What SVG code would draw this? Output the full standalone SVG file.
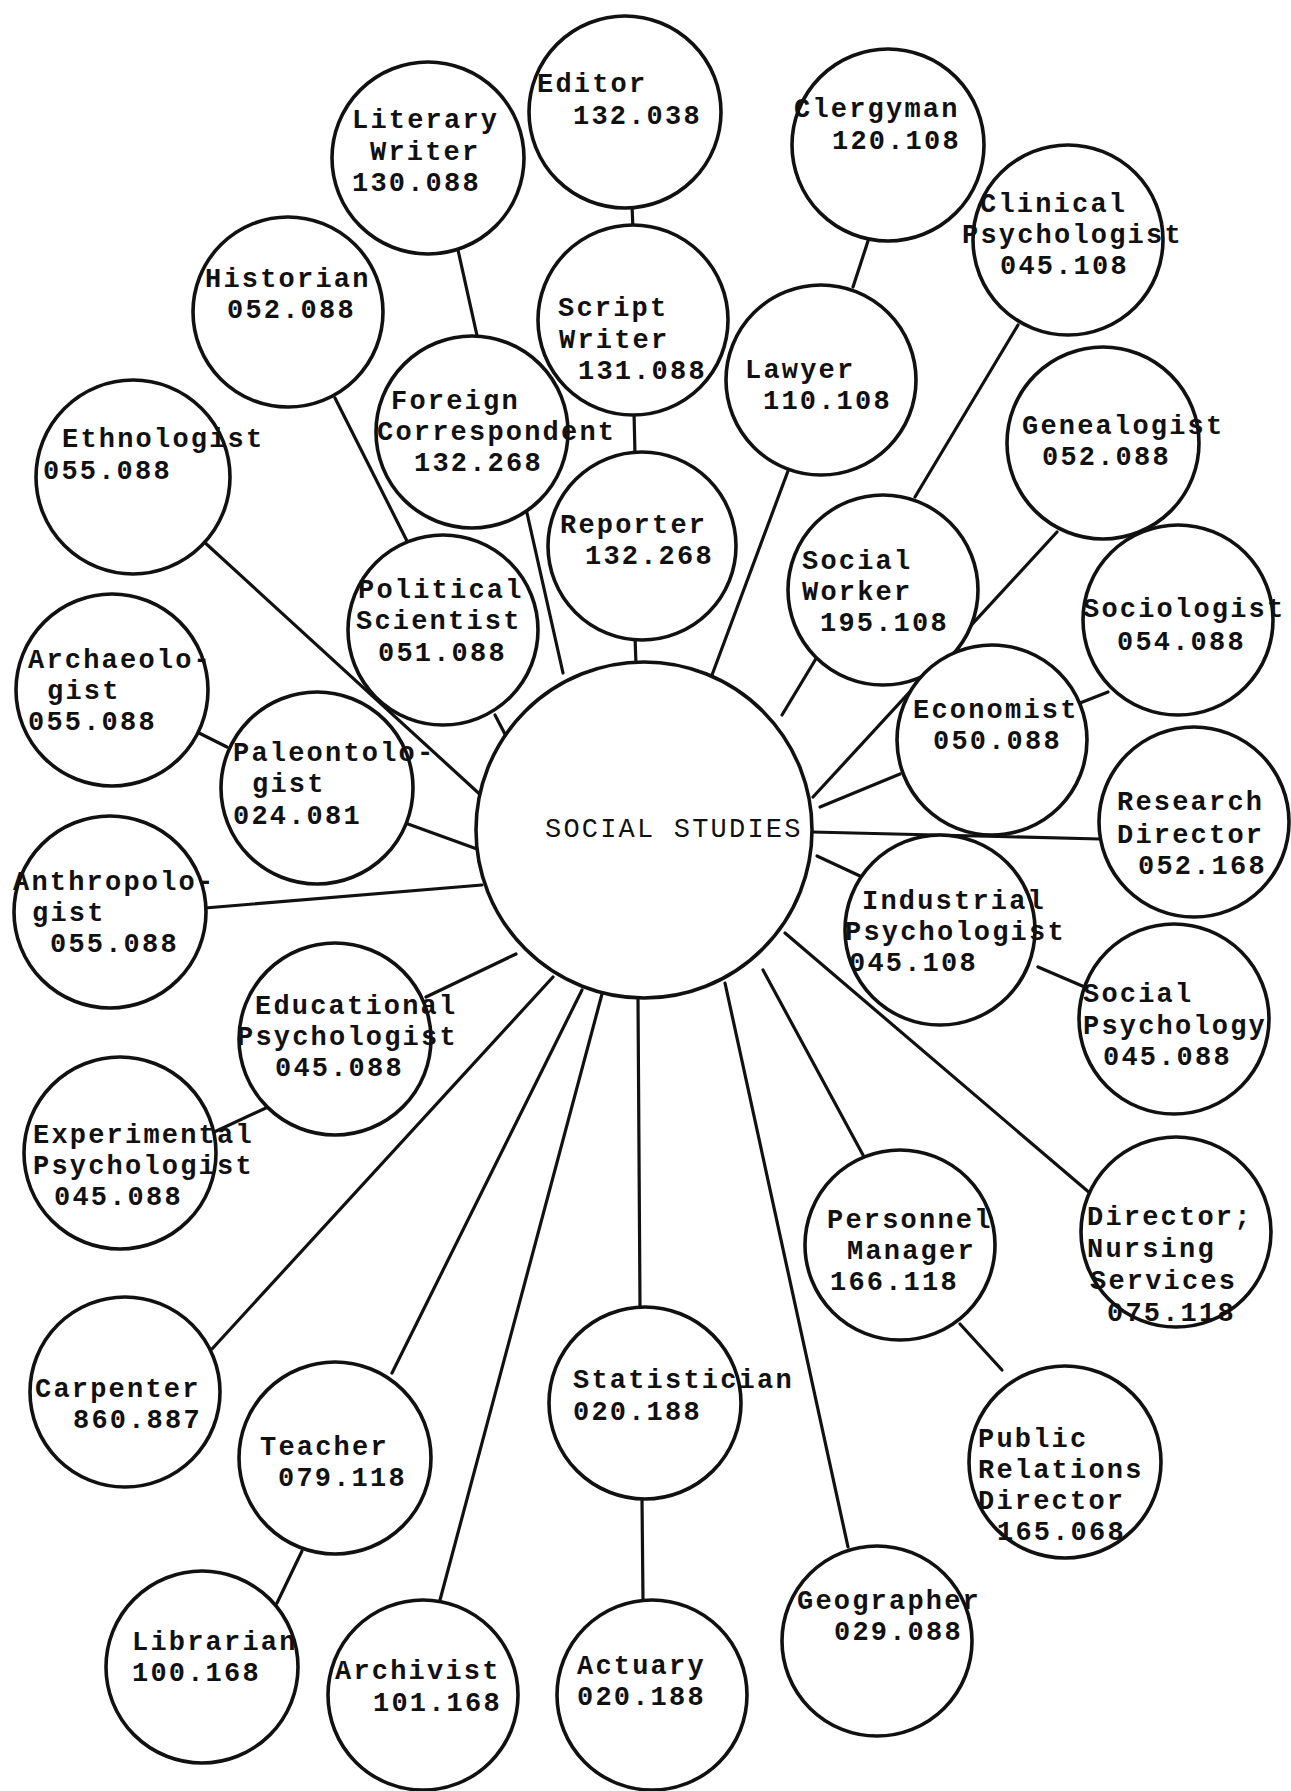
<svg xmlns="http://www.w3.org/2000/svg" width="1291" height="1791" viewBox="0 0 1291 1791">
<style>
.bg{fill:#fff}
.c{fill:#fff;stroke:#111;stroke-width:3.6}
.l{stroke:#111;stroke-width:3.2;fill:none;stroke-linecap:round}
.t{font-family:"Liberation Mono","Courier New",monospace;font-size:27px;letter-spacing:2.2px;font-weight:bold;fill:#111}
.s{font-family:"Liberation Mono","Courier New",monospace;font-size:27px;letter-spacing:2.2px;fill:#111}
</style>
<rect class="bg" x="0" y="0" width="1291" height="1791"/>
<g id="connectors">
<line class="l" x1="632" y1="205" x2="633" y2="230"/>
<line class="l" x1="634" y1="412" x2="635" y2="455"/>
<line class="l" x1="635" y1="636" x2="636" y2="665"/>
<line class="l" x1="458" y1="250" x2="478" y2="340"/>
<line class="l" x1="335" y1="398" x2="407" y2="541"/>
<line class="l" x1="527" y1="513" x2="563" y2="673"/>
<line class="l" x1="495" y1="715" x2="507" y2="738"/>
<line class="l" x1="202" y1="540" x2="485" y2="799"/>
<line class="l" x1="197" y1="732" x2="227" y2="747"/>
<line class="l" x1="408" y1="824" x2="477" y2="849"/>
<line class="l" x1="205" y1="908" x2="482" y2="885"/>
<line class="l" x1="426" y1="997" x2="516" y2="954"/>
<line class="l" x1="268" y1="1107" x2="212" y2="1133"/>
<line class="l" x1="212" y1="1349" x2="553" y2="977"/>
<line class="l" x1="392" y1="1373" x2="582" y2="990"/>
<line class="l" x1="302" y1="1551" x2="277" y2="1603"/>
<line class="l" x1="440" y1="1600" x2="602" y2="994"/>
<line class="l" x1="638" y1="998" x2="640" y2="1307"/>
<line class="l" x1="642" y1="1499" x2="643" y2="1600"/>
<line class="l" x1="848" y1="1547" x2="725" y2="983"/>
<line class="l" x1="863" y1="1155" x2="763" y2="970"/>
<line class="l" x1="960" y1="1324" x2="1002" y2="1370"/>
<line class="l" x1="1091" y1="1194" x2="785" y2="933"/>
<line class="l" x1="860" y1="876" x2="817" y2="856"/>
<line class="l" x1="1038" y1="967" x2="1087" y2="988"/>
<line class="l" x1="1100" y1="839" x2="812" y2="832"/>
<line class="l" x1="900" y1="774" x2="820" y2="807"/>
<line class="l" x1="1108" y1="692" x2="1080" y2="703"/>
<line class="l" x1="1057" y1="532" x2="813" y2="797"/>
<line class="l" x1="817" y1="657" x2="782" y2="715"/>
<line class="l" x1="1018" y1="325" x2="915" y2="497"/>
<line class="l" x1="788" y1="471" x2="712" y2="675"/>
<line class="l" x1="868" y1="241" x2="853" y2="287"/>
</g>
<g id="social-studies"><circle class="c" cx="644" cy="830" r="168"/><text class="s" x="545" y="837">SOCIAL STUDIES</text></g>
<g id="editor"><circle class="c" cx="625" cy="112" r="96"/><text class="t" x="537" y="92">Editor</text><text class="t" x="573" y="124">132.038</text></g>
<g id="literary-writer"><circle class="c" cx="428" cy="158" r="96"/><text class="t" x="352" y="128">Literary</text><text class="t" x="370" y="160">Writer</text><text class="t" x="352" y="191">130.088</text></g>
<g id="historian"><circle class="c" cx="288" cy="312" r="95"/><text class="t" x="205" y="287">Historian</text><text class="t" x="227" y="318">052.088</text></g>
<g id="ethnologist"><circle class="c" cx="133" cy="477" r="97"/><text class="t" x="62" y="447">Ethnologist</text><text class="t" x="43" y="479">055.088</text></g>
<g id="script-writer"><circle class="c" cx="633" cy="320" r="95"/><text class="t" x="558" y="316">Script</text><text class="t" x="559" y="348">Writer</text><text class="t" x="578" y="379">131.088</text></g>
<g id="foreign-correspondent"><circle class="c" cx="472" cy="432" r="96"/><text class="t" x="391" y="409">Foreign</text><text class="t" x="377" y="440">Correspondent</text><text class="t" x="414" y="471">132.268</text></g>
<g id="reporter"><circle class="c" cx="642" cy="546" r="94"/><text class="t" x="560" y="533">Reporter</text><text class="t" x="585" y="564">132.268</text></g>
<g id="clergyman"><circle class="c" cx="888" cy="145" r="96"/><text class="t" x="794" y="117">Clergyman</text><text class="t" x="832" y="149">120.108</text></g>
<g id="lawyer"><circle class="c" cx="821" cy="380" r="95"/><text class="t" x="745" y="378">Lawyer</text><text class="t" x="763" y="409">110.108</text></g>
<g id="clinical-psychologist"><circle class="c" cx="1068" cy="240" r="95"/><text class="t" x="980" y="212">Clinical</text><text class="t" x="962" y="243">Psychologist</text><text class="t" x="1000" y="274">045.108</text></g>
<g id="genealogist"><circle class="c" cx="1103" cy="443" r="96"/><text class="t" x="1022" y="434">Genealogist</text><text class="t" x="1042" y="465">052.088</text></g>
<g id="social-worker"><circle class="c" cx="883" cy="590" r="95"/><text class="t" x="802" y="569">Social</text><text class="t" x="802" y="600">Worker</text><text class="t" x="820" y="631">195.108</text></g>
<g id="political-scientist"><circle class="c" cx="443" cy="630" r="95"/><text class="t" x="358" y="598">Political</text><text class="t" x="356" y="629">Scientist</text><text class="t" x="378" y="661">051.088</text></g>
<g id="archaeologist"><circle class="c" cx="112" cy="690" r="96"/><text class="t" x="28" y="668">Archaeolo-</text><text class="t" x="47" y="699">gist</text><text class="t" x="28" y="730">055.088</text></g>
<g id="paleontologist"><circle class="c" cx="317" cy="788" r="96"/><text class="t" x="233" y="761">Paleontolo-</text><text class="t" x="252" y="792">gist</text><text class="t" x="233" y="824">024.081</text></g>
<g id="anthropologist"><circle class="c" cx="110" cy="912" r="96"/><text class="t" x="13" y="890">Anthropolo-</text><text class="t" x="32" y="921">gist</text><text class="t" x="50" y="952">055.088</text></g>
<g id="educational-psychologist"><circle class="c" cx="335" cy="1039" r="96"/><text class="t" x="255" y="1014">Educational</text><text class="t" x="237" y="1045">Psychologist</text><text class="t" x="275" y="1076">045.088</text></g>
<g id="experimental-psychologist"><circle class="c" cx="120" cy="1153" r="96"/><text class="t" x="33" y="1143">Experimental</text><text class="t" x="33" y="1174">Psychologist</text><text class="t" x="54" y="1205">045.088</text></g>
<g id="carpenter"><circle class="c" cx="125" cy="1392" r="95"/><text class="t" x="35" y="1397">Carpenter</text><text class="t" x="73" y="1428">860.887</text></g>
<g id="teacher"><circle class="c" cx="335" cy="1458" r="96"/><text class="t" x="260" y="1455">Teacher</text><text class="t" x="278" y="1486">079.118</text></g>
<g id="librarian"><circle class="c" cx="202" cy="1667" r="96"/><text class="t" x="132" y="1650">Librarian</text><text class="t" x="132" y="1681">100.168</text></g>
<g id="archivist"><circle class="c" cx="423" cy="1695" r="95"/><text class="t" x="335" y="1679">Archivist</text><text class="t" x="373" y="1711">101.168</text></g>
<g id="statistician"><circle class="c" cx="645" cy="1403" r="96"/><text class="t" x="573" y="1388">Statistician</text><text class="t" x="573" y="1420">020.188</text></g>
<g id="actuary"><circle class="c" cx="652" cy="1695" r="95"/><text class="t" x="577" y="1674">Actuary</text><text class="t" x="577" y="1705">020.188</text></g>
<g id="geographer"><circle class="c" cx="877" cy="1641" r="95"/><text class="t" x="797" y="1609">Geographer</text><text class="t" x="834" y="1640">029.088</text></g>
<g id="personnel-manager"><circle class="c" cx="900" cy="1245" r="95"/><text class="t" x="827" y="1228">Personnel</text><text class="t" x="847" y="1259">Manager</text><text class="t" x="830" y="1290">166.118</text></g>
<g id="public-relations-director"><circle class="c" cx="1065" cy="1462" r="96"/><text class="t" x="978" y="1447">Public</text><text class="t" x="978" y="1478">Relations</text><text class="t" x="978" y="1509">Director</text><text class="t" x="997" y="1540">165.068</text></g>
<g id="director-nursing-services"><circle class="c" cx="1176" cy="1232" r="95"/><text class="t" x="1087" y="1225">Director;</text><text class="t" x="1087" y="1257">Nursing</text><text class="t" x="1090" y="1289">Services</text><text class="t" x="1107" y="1321">075.118</text></g>
<g id="sociologist"><circle class="c" cx="1178" cy="620" r="95"/><text class="t" x="1083" y="617">Sociologist</text><text class="t" x="1117" y="650">054.088</text></g>
<g id="economist"><circle class="c" cx="992" cy="740" r="95"/><text class="t" x="913" y="718">Economist</text><text class="t" x="933" y="749">050.088</text></g>
<g id="research-director"><circle class="c" cx="1194" cy="822" r="95"/><text class="t" x="1117" y="810">Research</text><text class="t" x="1117" y="843">Director</text><text class="t" x="1138" y="874">052.168</text></g>
<g id="industrial-psychologist"><circle class="c" cx="940" cy="930" r="95"/><text class="t" x="862" y="909">Industrial</text><text class="t" x="845" y="940">Psychologist</text><text class="t" x="849" y="971">045.108</text></g>
<g id="social-psychology"><circle class="c" cx="1174" cy="1019" r="95"/><text class="t" x="1083" y="1002">Social</text><text class="t" x="1083" y="1034">Psychology</text><text class="t" x="1103" y="1065">045.088</text></g>
</svg>
